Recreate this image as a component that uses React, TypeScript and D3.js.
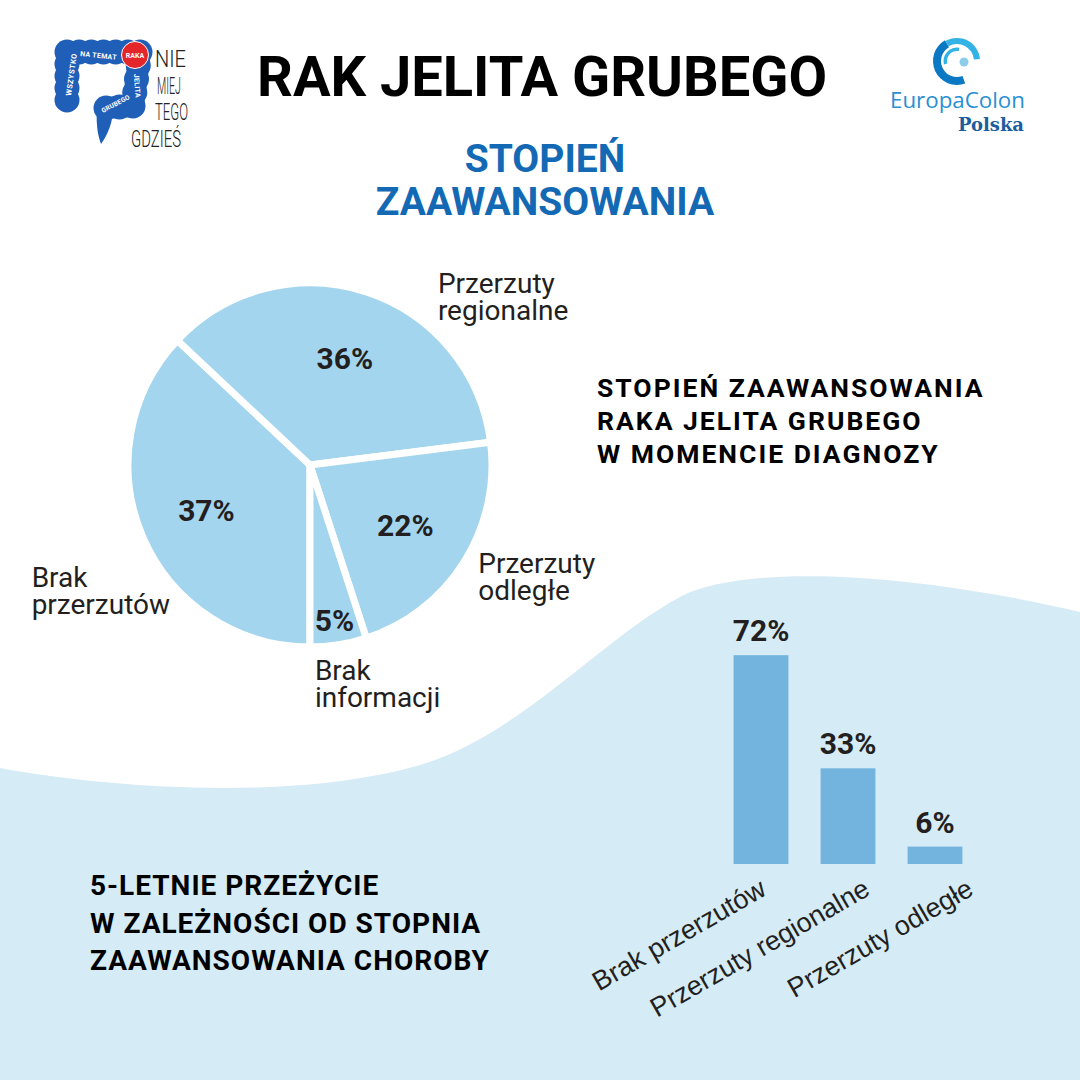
import React from 'react';
import * as d3 from 'd3';

// ---------- DATA ----------
const pieCategories = ['Brak przerzutów', 'Przerzuty regionalne', 'Przerzuty odległe', 'Brak informacji'];
const pieValues = [37, 36, 22, 5];
const pieLabelLines = [['Brak', 'przerzutów'], ['Przerzuty', 'regionalne'], ['Przerzuty', 'odległe'], ['Brak', 'informacji']];

const barCategories = ['Brak przerzutów', 'Przerzuty regionalne', 'Przerzuty odległe'];
const barValues = [72, 33, 6];

const titleText = 'RAK JELITA GRUBEGO';
const subtitleLines = ['STOPIEŃ', 'ZAAWANSOWANIA'];
const pieHeadingLines = ['STOPIEŃ ZAAWANSOWANIA', 'RAKA JELITA GRUBEGO', 'W MOMENCIE DIAGNOZY'];
const barHeadingLines = ['5-LETNIE PRZEŻYCIE', 'W ZALEŻNOŚCI OD STOPNIA', 'ZAAWANSOWANIA CHOROBY'];
const logoWords = ['NIE', 'MIEJ', 'TEGO', 'GDZIEŚ'];

// ---------- LAYOUT / STYLE ----------
const W = 1080;
const H = 1080;
const FONT = 'Roboto, "Noto Sans", sans-serif';
const PIE_FILL = '#A3D5EE';
const BAR_FILL = '#72B4DE';
const WAVE_FILL = '#D5EBF6';
const INK = '#231F20';
const BLUE_TITLE = '#1469B4';

const pieCx = 310;
const pieCy = 465;
const pieR = 182;
// [angle in degrees clockwise from 12 o'clock, radius] of each outer label's start point
const pieLabelPolar: [number, number][] = [[246.3, 304], [36.7, 214], [122.7, 200], [178.7, 215]];

const wavePath =
  'M0,768 C120,790 300,800 420,765 C520,735 600,640 680,597 C740,565 900,570 1080,612 L1080,1080 L0,1080 Z';

function LeftLogo() {
  const blue = '#1F5FB8';
  const pts: [number, number][] = [[67, 100], [67, 52], [140, 52], [133, 106], [106, 108]];
  const bumps: [number, number][] = [];
  for (let i = 0; i < pts.length - 1; i++) {
    const [x0, y0] = pts[i];
    const [x1, y1] = pts[i + 1];
    const len = Math.hypot(x1 - x0, y1 - y0);
    const n = Math.max(1, Math.round(len / 13));
    for (let k = 0; k < n; k++) {
      const t = k / n;
      bumps.push([x0 + (x1 - x0) * t, y0 + (y1 - y0) * t]);
    }
  }
  bumps.push(pts[pts.length - 1]);
  const line = d3.line();
  const small = { fontFamily: FONT, fontWeight: 700, fill: '#fff' } as const;
  return (
    <g>
      <path d={line(pts) || ''} fill="none" stroke={blue} strokeWidth={22} strokeLinejoin="round" strokeLinecap="round" />
      {bumps.map((b, i) => (
        <circle key={i} cx={b[0]} cy={b[1]} r={12.5} fill={blue} />
      ))}
      <path d="M97,108 L113,108 C113,122 108,134 101,144 C97,134 96,120 97,108 Z" fill={blue} />
      <text transform="translate(71,96) rotate(-82)" {...small} fontSize={7.5} letterSpacing={0.4}>WSZYSTKO</text>
      <text transform="translate(80,56) rotate(6)" {...small} fontSize={7} letterSpacing={0.3}>NA TEMAT</text>
      <text transform="translate(134,74) rotate(86)" {...small} fontSize={7} letterSpacing={0.3}>JELITA</text>
      <text transform="translate(103,113) rotate(-28)" {...small} fontSize={6.5} letterSpacing={0.2}>GRUBEGO</text>
      <circle cx={135} cy={55} r={13.5} fill="#E4262B" stroke="#fff" strokeWidth={1} />
      <text x={135} y={58} textAnchor="middle" {...small} fontSize={7}>RAKA</text>
      {logoWords.map((w, i) => (
        <text
          key={w}
          x={[155, 157, 155, 131][i]}
          y={67 + i * 26.5}
          fontFamily={FONT}
          fontWeight={300}
          fontSize={24}
          fill="#222"
          textLength={[31, 24, 33, 50][i]}
          lengthAdjust="spacingAndGlyphs"
        >
          {w}
        </text>
      ))}
    </g>
  );
}

function RightLogo() {
  const cx = 957;
  const cy = 61;
  const deg = Math.PI / 180;
  const outerDark = d3.arc()({ innerRadius: 16, outerRadius: 24, startAngle: 160 * deg, endAngle: 330 * deg }) || '';
  const outerCyan = d3.arc()({ innerRadius: 17, outerRadius: 23, startAngle: 330 * deg, endAngle: 445 * deg }) || '';
  const inner = d3.arc()({ innerRadius: 10, outerRadius: 13.5, startAngle: 255 * deg, endAngle: 370 * deg }) || '';
  return (
    <g>
      <g transform={`translate(${cx},${cy})`}>
        <path d={outerDark} fill="#0A78C2" />
        <path d={outerCyan} fill="#33B2E6" />
        <path d={inner} fill="#33B2E6" />
        <circle cx={7} cy={1} r={4.5} fill="#8CCDEA" />
      </g>
      <text x={890} y={108} fontFamily='"Open Sans", Lato, sans-serif' fontSize={21} fill="#2A8FD3" textLength={135} lengthAdjust="spacingAndGlyphs">EuropaColon</text>
      <text x={958} y={131} fontFamily='"DejaVu Serif", "Liberation Serif", serif' fontWeight={700} fontSize={19} fill="#1D5D9E" textLength={66} lengthAdjust="spacingAndGlyphs">Polska</text>
    </g>
  );
}

export default function App() {
  const pie = d3
    .pie<number>()
    .value((d) => d)
    .sort(null)
    .startAngle(Math.PI)
    .endAngle(3 * Math.PI);
  const arcs = pie(pieValues);
  const arcGen = d3.arc<d3.PieArcDatum<number>>().innerRadius(0).outerRadius(pieR);

  const x = d3
    .scaleBand<string>()
    .domain(barCategories)
    .range([717.5, 978.5])
    .paddingInner(0.37)
    .paddingOuter(0.185);
  // anchor points (text ends) of the rotated category labels
  const xLabel = d3.scalePoint<string>().domain(barCategories).range([768, 975]);
  const y = d3.scaleLinear().domain([0, 100]).range([864, 574]);

  return (
    <svg
      width={W}
      height={H}
      viewBox={`0 0 ${W} ${H}`}
      style={{ position: 'absolute', left: 0, top: 0, background: '#fff' }}
    >
      <rect x={0} y={0} width={W} height={H} fill="#fff" />
      <path d={wavePath} fill={WAVE_FILL} />

      <LeftLogo />
      <RightLogo />

      {/* Title */}
      <text x={542} y={96} textAnchor="middle" fontFamily={FONT} fontWeight={700} fontSize={56} fill="#000">
        {titleText}
      </text>
      {subtitleLines.map((l, i) => (
        <text key={l} x={545} y={172 + i * 43} textAnchor="middle" fontFamily={FONT} fontWeight={700} fontSize={39} fill={BLUE_TITLE}>
          {l}
        </text>
      ))}

      {/* Pie */}
      <g transform={`translate(${pieCx},${pieCy})`}>
        {arcs.map((a, i) => (
          <path key={pieCategories[i]} d={arcGen(a) || ''} fill={PIE_FILL} stroke="#fff" strokeWidth={7} strokeLinejoin="miter" />
        ))}
        {arcs.map((a, i) => {
          const mid = (a.startAngle + a.endAngle) / 2;
          const r = a.data < 10 ? pieR * 0.86 : pieR * 0.62;
          const [lx, ly] = d3.pointRadial(mid, r);
          return (
            <text key={'v' + i} x={lx} y={ly + 11} textAnchor="middle" fontFamily={FONT} fontWeight={700} fontSize={30} fill={INK}>
              {a.data}%
            </text>
          );
        })}
        {pieLabelLines.map((lines, i) => {
          const [ang, rad] = pieLabelPolar[i];
          const [lx, ly] = d3.pointRadial((ang * Math.PI) / 180, rad);
          return (
            <text key={'l' + i} x={lx} y={ly} fontFamily={FONT} fontSize={28} fill={INK}>
              {lines.map((ln, j) => (
                <tspan key={j} x={lx} dy={j === 0 ? 0 : 27}>
                  {ln}
                </tspan>
              ))}
            </text>
          );
        })}
      </g>

      {/* Pie heading */}
      {pieHeadingLines.map((l, i) => (
        <text key={l} x={597} y={397 + i * 33} fontFamily={FONT} fontWeight={700} fontSize={26.5} letterSpacing={2} fill="#000">
          {l}
        </text>
      ))}

      {/* Bar heading */}
      {barHeadingLines.map((l, i) => (
        <text key={l} x={90} y={895 + i * 37.5} fontFamily={FONT} fontWeight={700} fontSize={28} letterSpacing={1} fill="#000">
          {l}
        </text>
      ))}

      {/* Bars */}
      <g>
        {barCategories.map((c, i) => (
          <rect key={c} x={x(c)} y={y(barValues[i])} width={x.bandwidth()} height={y(0) - y(barValues[i])} fill={BAR_FILL} />
        ))}
        {barCategories.map((c, i) => (
          <text
            key={'v' + c}
            x={(x(c) || 0) + x.bandwidth() / 2}
            y={y(barValues[i]) - 14}
            textAnchor="middle"
            fontFamily={FONT}
            fontWeight={700}
            fontSize={30}
            fill={INK}
          >
            {barValues[i]}%
          </text>
        ))}
        {barCategories.map((c) => (
          <text
            key={'x' + c}
            transform={`translate(${xLabel(c)},${y(0) + 30}) rotate(-30)`}
            textAnchor="end"
            fontFamily='"Liberation Sans", Arial, sans-serif'
            fontSize={27}
            fill={INK}
          >
            {c}
          </text>
        ))}
      </g>
    </svg>
  );
}
